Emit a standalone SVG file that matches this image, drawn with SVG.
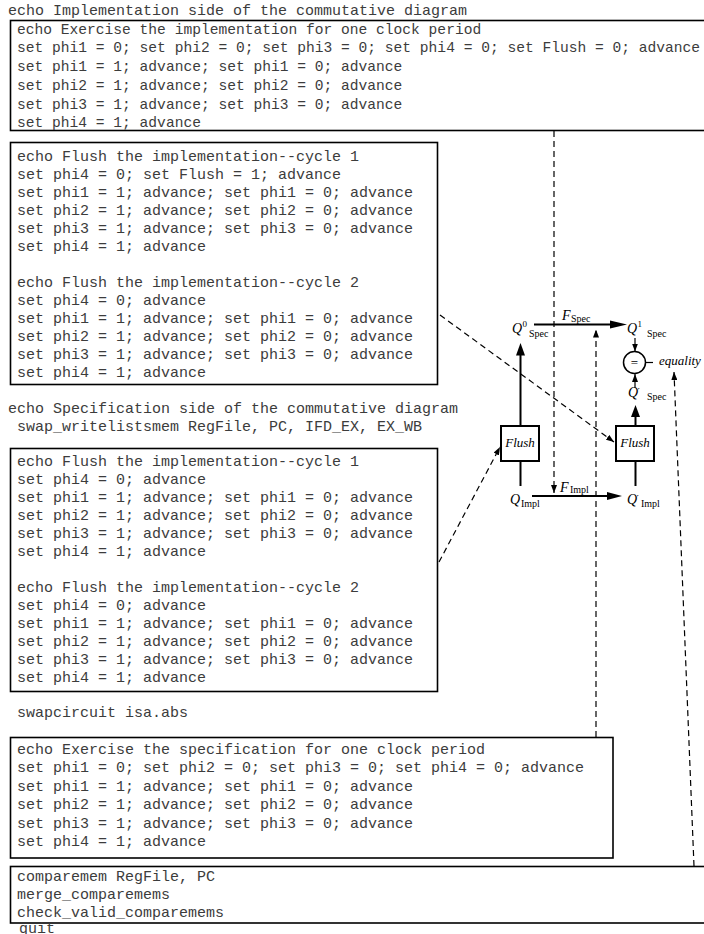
<svg xmlns="http://www.w3.org/2000/svg" width="704" height="934" viewBox="0 0 704 934">
<style>
.mono{font-family:"Liberation Mono","Courier New",monospace;font-size:15px;fill:#3c3c3c}
.small{font-size:14.6px}
.box{fill:none;stroke:#000;stroke-width:1.6}
.fbox{fill:#fff;stroke:#000;stroke-width:2}
.dash{fill:none;stroke:#000;stroke-width:1.2;stroke-dasharray:6 4}
.thick{stroke:#000;stroke-width:2;fill:none}
.thin{stroke:#000;stroke-width:1.2;fill:none}
.mi{font-family:"Liberation Serif","Times New Roman",serif;font-style:italic;font-size:14px;fill:#000}
.fl{font-family:"Liberation Serif","Times New Roman",serif;font-style:italic;font-size:13px;fill:#000}
.sub{font-family:"Liberation Serif","Times New Roman",serif;font-size:10px;fill:#000}
.sup{font-family:"Liberation Serif","Times New Roman",serif;font-size:9px;fill:#000}
.pr{font-family:"DejaVu Serif","Liberation Serif",serif;font-size:10px;fill:#000}
</style>
<defs>
<marker id="ad" viewBox="0 0 8 6" refX="8" refY="3" markerWidth="8" markerHeight="6" orient="auto" markerUnits="userSpaceOnUse"><path d="M0,0L8,3L0,6z" fill="#000"/></marker>
</defs>

<g id="hdr-impl"><text class="mono" x="8" y="15">echo Implementation side of the commutative diagram</text></g>

<g id="box-impl-exercise">
<rect class="box" x="10.5" y="20.5" width="710" height="110"/>
<text class="mono small" x="17" y="33.5">echo Exercise the implementation for one clock period</text>
<text class="mono small" x="17" y="52.3">set phi1 = 0; set phi2 = 0; set phi3 = 0; set phi4 = 0; set Flush = 0; advance</text>
<text class="mono small" x="17" y="71.1">set phi1 = 1; advance; set phi1 = 0; advance</text>
<text class="mono small" x="17" y="89.9">set phi2 = 1; advance; set phi2 = 0; advance</text>
<text class="mono small" x="17" y="108.7">set phi3 = 1; advance; set phi3 = 0; advance</text>
<text class="mono small" x="17" y="127.3">set phi4 = 1; advance</text>
</g>

<g id="box-impl-flush">
<rect class="box" x="10.5" y="142.5" width="427" height="242"/>
<text class="mono" x="17" y="160.5">echo Flush the implementation--cycle 1</text>
<text class="mono" x="17" y="178.5">set phi4 = 0; set Flush = 1; advance</text>
<text class="mono" x="17" y="196.5">set phi1 = 1; advance; set phi1 = 0; advance</text>
<text class="mono" x="17" y="214.5">set phi2 = 1; advance; set phi2 = 0; advance</text>
<text class="mono" x="17" y="232.5">set phi3 = 1; advance; set phi3 = 0; advance</text>
<text class="mono" x="17" y="250.5">set phi4 = 1; advance</text>
<text class="mono" x="17" y="286.5">echo Flush the implementation--cycle 2</text>
<text class="mono" x="17" y="304.5">set phi4 = 0; advance</text>
<text class="mono" x="17" y="322.5">set phi1 = 1; advance; set phi1 = 0; advance</text>
<text class="mono" x="17" y="340.5">set phi2 = 1; advance; set phi2 = 0; advance</text>
<text class="mono" x="17" y="358.5">set phi3 = 1; advance; set phi3 = 0; advance</text>
<text class="mono" x="17" y="376.5">set phi4 = 1; advance</text>
</g>

<g id="hdr-spec">
<text class="mono" x="8" y="412.5">echo Specification side of the commutative diagram</text>
<text class="mono" x="17" y="430.5">swap_writelistsmem RegFile, PC, IFD_EX, EX_WB</text>
</g>

<g id="box-spec-flush">
<rect class="box" x="10.5" y="448.5" width="427" height="243"/>
<text class="mono" x="17" y="466">echo Flush the implementation--cycle 1</text>
<text class="mono" x="17" y="484">set phi4 = 0; advance</text>
<text class="mono" x="17" y="502">set phi1 = 1; advance; set phi1 = 0; advance</text>
<text class="mono" x="17" y="520">set phi2 = 1; advance; set phi2 = 0; advance</text>
<text class="mono" x="17" y="538">set phi3 = 1; advance; set phi3 = 0; advance</text>
<text class="mono" x="17" y="556">set phi4 = 1; advance</text>
<text class="mono" x="17" y="592">echo Flush the implementation--cycle 2</text>
<text class="mono" x="17" y="610">set phi4 = 0; advance</text>
<text class="mono" x="17" y="628">set phi1 = 1; advance; set phi1 = 0; advance</text>
<text class="mono" x="17" y="646">set phi2 = 1; advance; set phi2 = 0; advance</text>
<text class="mono" x="17" y="664">set phi3 = 1; advance; set phi3 = 0; advance</text>
<text class="mono" x="17" y="682">set phi4 = 1; advance</text>
</g>

<g id="swapcircuit"><text class="mono" x="17" y="716.5">swapcircuit isa.abs</text></g>

<g id="box-spec-exercise">
<rect class="box" x="10.5" y="737.5" width="602.5" height="120.5"/>
<text class="mono" x="17" y="753.5">echo Exercise the specification for one clock period</text>
<text class="mono" x="17" y="772">set phi1 = 0; set phi2 = 0; set phi3 = 0; set phi4 = 0; advance</text>
<text class="mono" x="17" y="790.6">set phi1 = 1; advance; set phi1 = 0; advance</text>
<text class="mono" x="17" y="809.2">set phi2 = 1; advance; set phi2 = 0; advance</text>
<text class="mono" x="17" y="827.8">set phi3 = 1; advance; set phi3 = 0; advance</text>
<text class="mono" x="17" y="846.4">set phi4 = 1; advance</text>
</g>

<g id="box-compare">
<rect class="box" x="10.5" y="866.5" width="710" height="56.5"/>
<text class="mono" x="17" y="880.5">comparemem RegFile, PC</text>
<text class="mono" x="17" y="899">merge_comparemems</text>
<text class="mono" x="17" y="917">check_valid_comparemems</text>
</g>

<g id="quit"><text class="mono" x="19" y="932.5">quit</text></g>

<g id="connectors">
<line class="dash" x1="554" y1="131" x2="554" y2="493" marker-end="url(#ad)"/>
<line class="dash" x1="596" y1="737" x2="596" y2="329.5" marker-end="url(#ad)"/>
<line class="dash" x1="694" y1="866" x2="674" y2="372" marker-end="url(#ad)"/>
<line class="dash" x1="440" y1="315" x2="614" y2="442" marker-end="url(#ad)"/>
<line class="dash" x1="439" y1="562" x2="500" y2="447" marker-end="url(#ad)"/>
<line class="thick" x1="534" y1="324.5" x2="612" y2="324.5"/>
<polygon points="610,320.5 627,324.5 610,328.5" fill="#000"/>
<line class="thick" x1="532" y1="496" x2="610" y2="496"/>
<polygon points="607,492 622,496 607,500" fill="#000"/>
<line class="thick" x1="520.5" y1="426" x2="520.5" y2="354"/>
<polygon points="516,355.5 520.5,343 525,355.5" fill="#000"/>
<line class="thick" x1="520.5" y1="461" x2="520.5" y2="486"/>
<line class="thick" x1="635.5" y1="426" x2="635.5" y2="415"/>
<polygon points="631,417 635.5,405 640,417" fill="#000"/>
<line class="thick" x1="635.5" y1="461" x2="635.5" y2="486"/>
<line class="thin" x1="635" y1="338" x2="635" y2="351.5" marker-end="url(#ad)"/>
<line class="thin" x1="635" y1="388" x2="635" y2="374" marker-end="url(#ad)"/>
<line class="thin" x1="646" y1="362.5" x2="653" y2="362.5"/>
</g>

<g id="q0spec">
<text class="mi" x="512" y="333">Q</text><text class="sup" x="522.5" y="327">0</text><text class="sub" x="529" y="336.5">Spec</text>
</g>
<g id="fspec">
<text class="mi" x="562" y="320">F</text><text class="sub" x="571" y="322">Spec</text>
</g>
<g id="q1spec">
<text class="mi" x="627" y="333">Q</text><text class="sup" x="637.5" y="327">1</text><text class="sub" x="647" y="336.5">Spec</text>
</g>
<g id="equal">
<circle cx="634.5" cy="362.5" r="11" fill="#fff" stroke="#000" stroke-width="1.5"/>
<text x="634.5" y="367" text-anchor="middle" style="font-family:'Liberation Serif',serif;font-size:13px">=</text>
<text class="fl" x="659" y="365">equality</text>
</g>
<g id="qpspec">
<text class="mi" x="628" y="397">Q</text><text class="pr" x="637.5" y="395">′</text><text class="sub" x="647" y="400">Spec</text>
</g>
<g id="flush-left">
<rect class="fbox" x="501" y="426" width="38" height="35"/>
<text class="fl" x="520" y="447" text-anchor="middle">Flush</text>
</g>
<g id="flush-right">
<rect class="fbox" x="616" y="426" width="38" height="35"/>
<text class="fl" x="635" y="447" text-anchor="middle">Flush</text>
</g>
<g id="qimpl">
<text class="mi" x="510" y="504">Q</text><text class="sub" x="521" y="507">Impl</text>
</g>
<g id="fimpl">
<text class="mi" x="560" y="491.5">F</text><text class="sub" x="570" y="493">Impl</text>
</g>
<g id="qpimpl">
<text class="mi" x="627" y="504">Q</text><text class="pr" x="636.5" y="502">′</text><text class="sub" x="641" y="507">Impl</text>
</g>
</svg>
